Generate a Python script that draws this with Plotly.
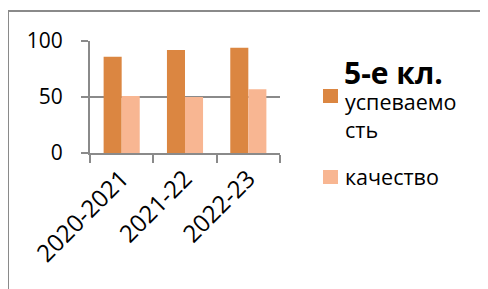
import plotly.graph_objects as go

categories = ["2020-2021", "2021-22", "2022-23"]
uspevaemost = [86, 92, 94]
kachestvo = [51, 50, 57]
series_names = ["успеваемость", "качество"]
title_text = "5-е кл."

OFF = 8  # page body margin
W, H = 488, 289
L, R, T, B = 90 - OFF, 280 - OFF, 41 - OFF, 153 - OFF  # plot area in figure pixels

def px(x):
    return (x - OFF - L) / (R - L)

def py(y):
    return (B - (y - OFF)) / (B - T)

DARK = "#DB8641"
LIGHT = "#F8B692"
GRID = "#8A8A8A"
FONT = "Open Sans"

fig = go.Figure()
fig.add_trace(go.Bar(x=categories, y=uspevaemost, name=series_names[0],
                     marker=dict(color=DARK, line=dict(width=0))))
fig.add_trace(go.Bar(x=categories, y=kachestvo, name=series_names[1],
                     marker=dict(color=LIGHT, line=dict(width=0))))

shapes = [
    # outer frame (left and top edges)
    dict(type="line", xref="paper", yref="paper", x0=px(8), x1=px(8), y0=py(10), y1=py(310),
         line=dict(color=GRID, width=2)),
    dict(type="line", xref="paper", yref="paper", x0=px(8), x1=px(500), y0=py(11), y1=py(11),
         line=dict(color=GRID, width=2)),
    # legend swatches
    dict(type="rect", xref="paper", yref="paper", x0=px(323), x1=px(338), y0=py(89), y1=py(103),
         fillcolor=DARK, line=dict(width=0)),
    dict(type="rect", xref="paper", yref="paper", x0=px(323), x1=px(338), y0=py(170), y1=py(184),
         fillcolor=LIGHT, line=dict(width=0)),
]

annotations = [
    dict(text="<b>" + title_text + "</b>", xref="paper", yref="paper", x=px(342), y=py(72),
         xanchor="left", yanchor="middle", showarrow=False,
         font=dict(family=FONT, size=30, color="#000000")),
    dict(text=series_names[0][:9] + "<br>" + series_names[0][9:], xref="paper", yref="paper",
         x=px(343), y=py(115), xanchor="left", yanchor="middle", showarrow=False, align="left",
         font=dict(family=FONT, size=21.5, color="#000000")),
    dict(text=series_names[1], xref="paper", yref="paper", x=px(343), y=py(176),
         xanchor="left", yanchor="middle", showarrow=False,
         font=dict(family=FONT, size=21.5, color="#000000")),
]

fig.update_layout(
    width=W, height=H,
    margin=dict(l=L, r=W - R, t=T, b=H - B, pad=0, autoexpand=False),
    paper_bgcolor="white", plot_bgcolor="white",
    barmode="group", bargap=0.43, bargroupgap=0,
    showlegend=False,
    font=dict(family=FONT, color="#000000"),
    shapes=shapes, annotations=annotations,
)
fig.update_xaxes(
    type="category", range=[-0.5, 2.5], automargin=False,
    showline=True, linecolor=GRID, linewidth=2,
    ticks="outside", tickson="boundaries", ticklen=8, tickwidth=2, tickcolor=GRID,
    tickangle=-45, tickfont=dict(family=FONT, size=24, color="#000000"),
    showgrid=False,
)
fig.update_yaxes(
    range=[0, 100], tickvals=[0, 50, 100], automargin=False,
    showline=True, linecolor=GRID, linewidth=2,
    ticks="outside", ticklen=7, tickwidth=2, tickcolor=GRID,
    showgrid=True, gridcolor=GRID, gridwidth=2, zeroline=False,
    tickfont=dict(family=FONT, size=21, color="#000000"),
    ticklabelstandoff=14,
)

fig.write_html("out.html")
